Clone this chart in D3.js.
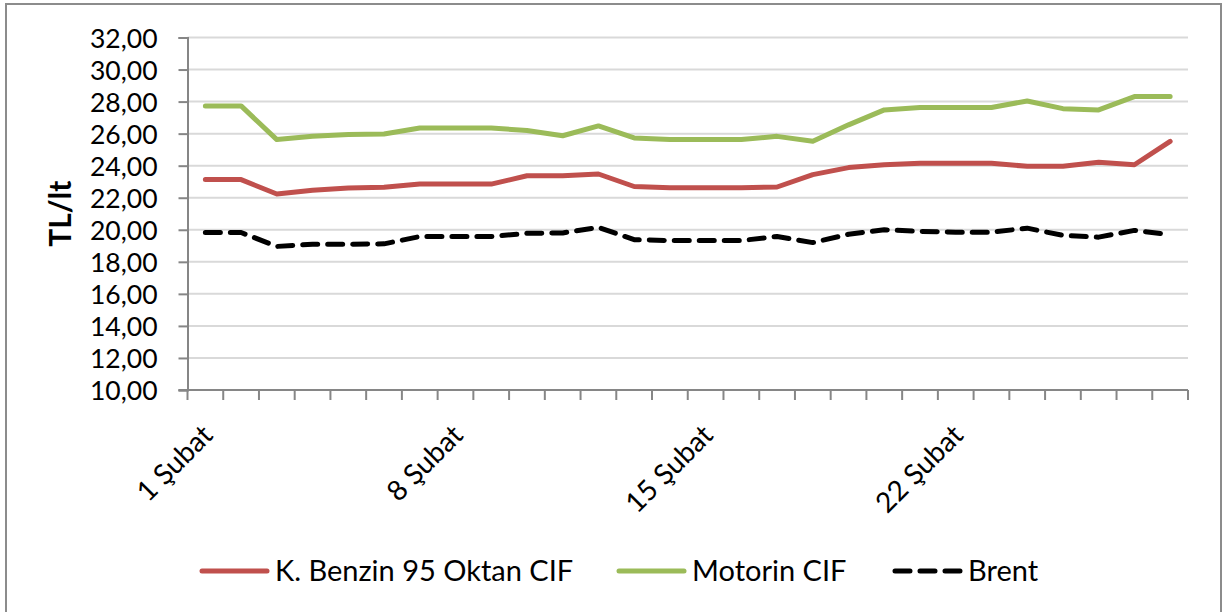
<!DOCTYPE html>
<html>
<head>
<meta charset="utf-8">
<script src="https://cdn.jsdelivr.net/npm/d3@7"></script>
<style>
  body { margin: 0; background: #fff; }
  text { font-family: Lato, "Open Sans", sans-serif; fill: #000; }
</style>
</head>
<body>
<div id="chart"></div>
<script>
// Days of February (category axis)
var days = [1, 2, 3, 4, 5, 6, 7, 8, 9, 10, 11, 12, 13, 14, 15, 16, 17, 18, 19, 20, 21, 22, 23, 24, 25, 26, 27, 28];
var labelledDays = [1, 8, 15, 22];
var monthName = "Şubat";

// TL/lt values
var benzin = [23.13, 23.13, 22.23, 22.46, 22.60, 22.65, 22.85, 22.85, 22.85, 23.37, 23.37, 23.48, 22.70, 22.62,
              22.62, 22.62, 22.67, 23.44, 23.88, 24.06, 24.15, 24.15, 24.15, 23.96, 23.96, 24.22, 24.06, 25.52];
var motorin = [27.73, 27.73, 25.63, 25.83, 25.94, 25.98, 26.35, 26.35, 26.35, 26.20, 25.87, 26.48, 25.73, 25.63,
               25.63, 25.63, 25.83, 25.52, 26.55, 27.48, 27.63, 27.63, 27.63, 28.04, 27.56, 27.48, 28.31, 28.31];
var brent = [19.83, 19.83, 18.96, 19.10, 19.10, 19.12, 19.58, 19.58, 19.58, 19.78, 19.80, 20.15, 19.38, 19.33,
             19.33, 19.33, 19.58, 19.20, 19.72, 20.00, 19.90, 19.85, 19.85, 20.10, 19.65, 19.54, 19.96, 19.69];

var yTicks = [10, 12, 14, 16, 18, 20, 22, 24, 26, 28, 30, 32];

var seriesNames = ["K. Benzin 95 Oktan CIF", "Motorin CIF", "Brent"];
var seriesValues = [benzin, motorin, brent];
var seriesColors = ["#C0504D", "#9BBB59", "#000000"];
var seriesDash = [null, null, "15,10"];

var width = 1227, height = 612;
var margin = { top: 37.5, right: 39, bottom: 222, left: 187.5 };

var svg = d3.select("#chart").append("svg")
  .attr("width", width)
  .attr("height", height);

// outer chart frame
svg.append("rect")
  .attr("x", 6).attr("y", 4)
  .attr("width", 1215).attr("height", 640)
  .attr("fill", "none")
  .attr("stroke", "#8c8c8c")
  .attr("stroke-width", 2);

var x = d3.scaleBand()
  .domain(days)
  .range([margin.left, width - margin.right]);

var y = d3.scaleLinear()
  .domain([10, 32])
  .range([height - margin.bottom, margin.top]);

// gridlines
svg.append("g")
  .selectAll("line")
  .data(yTicks.slice(1))
  .enter().append("line")
  .attr("x1", margin.left).attr("x2", width - margin.right)
  .attr("y1", function (d) { return y(d); })
  .attr("y2", function (d) { return y(d); })
  .attr("stroke", "#d9d9d9")
  .attr("stroke-width", 2);

// y axis
var yAxis = d3.axisLeft(y)
  .tickValues(yTicks)
  .tickSize(9)
  .tickPadding(21)
  .tickFormat(function (d) { return d3.format(".2f")(d).replace(".", ","); });

var gy = svg.append("g")
  .attr("transform", "translate(" + margin.left + ",0)")
  .call(yAxis);
gy.select(".domain").attr("stroke", "#868686").attr("stroke-width", 2);
gy.selectAll(".tick line").attr("stroke", "#868686").attr("stroke-width", 2);
gy.selectAll(".tick text")
  .style("font-family", "Lato")
  .style("font-size", "26.5px")
  .attr("dy", "0.36em");

// x axis: line and ticks at category boundaries
var gx = svg.append("g");
gx.append("line")
  .attr("x1", margin.left - 9).attr("x2", width - margin.right)
  .attr("y1", y(10)).attr("y2", y(10))
  .attr("stroke", "#868686").attr("stroke-width", 2);
gx.selectAll(".xtick")
  .data(days.concat([null]))
  .enter().append("line")
  .attr("class", "xtick")
  .attr("x1", function (d, i) { return x(days[0]) + i * x.step(); })
  .attr("x2", function (d, i) { return x(days[0]) + i * x.step(); })
  .attr("y1", y(10)).attr("y2", y(10) + 10)
  .attr("stroke", "#868686").attr("stroke-width", 2);

gx.selectAll(".xlabel")
  .data(labelledDays)
  .enter().append("text")
  .attr("class", "xlabel")
  .attr("text-anchor", "end")
  .style("font-size", "28px")
  .attr("transform", function (d) {
    var cx = x(d) + x.bandwidth() / 2 + 9;
    return "translate(" + cx + ",437) rotate(-45)";
  })
  .text(function (d) { return d + " " + monthName; });

// y axis title
svg.append("text")
  .attr("transform", "translate(71," + ((y(10) + y(32)) / 2) + ") rotate(-90)")
  .attr("text-anchor", "middle")
  .style("font-size", "30px")
  .style("font-weight", "bold")
  .text("TL/lt");

// lines
var line = d3.line()
  .x(function (d, i) { return x(days[i]) + x.bandwidth() / 2; })
  .y(function (d) { return y(d); });

svg.append("g")
  .selectAll("path")
  .data(seriesValues)
  .enter().append("path")
  .attr("d", function (d) { return line(d); })
  .attr("fill", "none")
  .attr("stroke", function (d, i) { return seriesColors[i]; })
  .attr("stroke-width", 5)
  .attr("stroke-linejoin", "round")
  .attr("stroke-linecap", "round")
  .attr("stroke-dasharray", function (d, i) { return seriesDash[i]; });

// legend
var legendX = [200, 617, 893];
var legend = svg.append("g")
  .selectAll("g")
  .data(seriesNames)
  .enter().append("g")
  .attr("transform", function (d, i) { return "translate(" + legendX[i] + ",571)"; });

legend.append("line")
  .attr("x1", 2).attr("x2", 67)
  .attr("y1", 0).attr("y2", 0)
  .attr("stroke", function (d, i) { return seriesColors[i]; })
  .attr("stroke-width", 5)
  .attr("stroke-linecap", "round")
  .attr("stroke-dasharray", function (d, i) { return seriesDash[i]; });

legend.append("text")
  .attr("x", 75)
  .attr("dy", "0.36em")
  .style("font-size", "29px")
  .text(function (d) { return d; });
</script>
</body>
</html>
